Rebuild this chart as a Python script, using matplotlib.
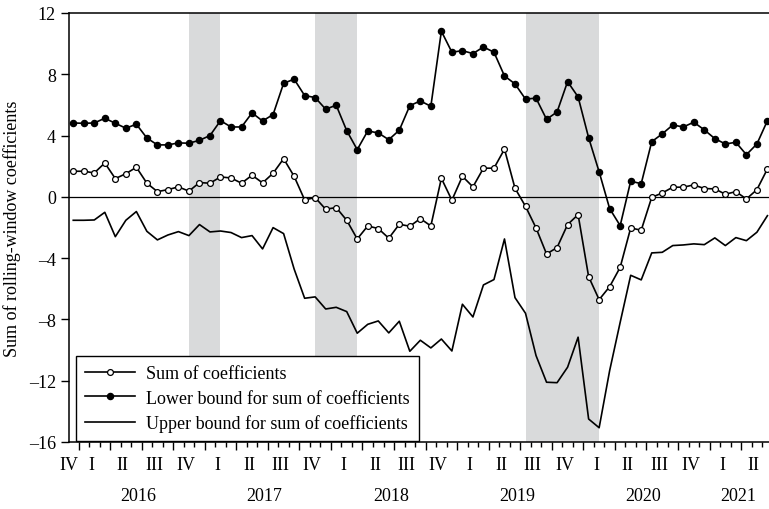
import numpy as np
import matplotlib
matplotlib.use("Agg")
import matplotlib.pyplot as plt

plt.rcParams['font.family'] = ['Liberation Serif', 'DejaVu Serif']

# monthly data, Dec 2015 .. Jun 2021
start_year, start_month = 2015, 12
sum_coef = [1.67, 1.67, 1.56, 2.21, 1.19, 1.51, 1.93, 0.89, 0.34, 0.47,
            0.65, 0.37, 0.93, 0.89, 1.30, 1.23, 0.89, 1.41, 0.91, 1.54,
            2.49, 1.34, -0.20, -0.05, -0.81, -0.70, -1.53, -2.75, -1.90, -2.07,
            -2.70, -1.79, -1.92, -1.42, -1.90, 1.21, -0.22, 1.34, 0.65, 1.87,
            1.87, 3.11, 0.56, -0.62, -2.03, -3.73, -3.31, -1.81, -1.16, -5.21,
            -6.71, -5.86, -4.60, -2.03, -2.18, -0.03, 0.25, 0.63, 0.63, 0.78,
            0.54, 0.52, 0.17, 0.34, -0.14, 0.47, 1.82]
lower = [4.82, 4.80, 4.82, 5.13, 4.80, 4.48, 4.74, 3.84, 3.39, 3.39,
         3.52, 3.50, 3.69, 4.00, 4.97, 4.56, 4.56, 5.48, 4.95, 5.37,
         7.41, 7.68, 6.61, 6.48, 5.72, 5.98, 4.32, 3.08, 4.30, 4.17,
         3.73, 4.35, 5.95, 6.26, 5.91, 10.81, 9.44, 9.54, 9.35, 9.78,
         9.44, 7.89, 7.37, 6.38, 6.44, 5.06, 5.54, 7.52, 6.52, 3.86,
         1.63, -0.77, -1.88, 1.02, 0.86, 3.60, 4.11, 4.69, 4.56, 4.87,
         4.37, 3.80, 3.45, 3.56, 2.75, 3.45, 4.97]
upper = [-1.53, -1.53, -1.51, -1.01, -2.60, -1.53, -0.96, -2.25, -2.81, -2.49,
         -2.27, -2.53, -1.81, -2.29, -2.23, -2.33, -2.66, -2.53, -3.40, -2.01,
         -2.40, -4.71, -6.62, -6.53, -7.32, -7.21, -7.49, -8.90, -8.32, -8.10,
         -8.88, -8.12, -10.08, -9.36, -9.86, -9.28, -10.06, -7.01, -7.84, -5.75,
         -5.40, -2.75, -6.58, -7.60, -10.36, -12.10, -12.13, -11.12, -9.16, -14.50,
         -15.07, -11.34, -8.19, -5.12, -5.42, -3.66, -3.62, -3.18, -3.14, -3.07,
         -3.12, -2.68, -3.18, -2.66, -2.86, -2.31, -1.23]
# shaded periods (month index from / to)
shade_periods = [(11, 14), (23, 27), (43, 50)]
roman = ['I', 'II', 'III', 'IV']

n = len(sum_coef)
x = np.arange(n)
months = [(start_month - 1 + i) % 12 + 1 for i in range(n)]
years = [start_year + (start_month - 1 + i) // 12 for i in range(n)]

fig = plt.figure(figsize=(7.69, 5.10), dpi=100)
ax = fig.add_axes([0.0891, 0.1314, 1.0 - 0.0891, 0.8412])

for a, b in shade_periods:
    ax.axvspan(a, b, color='#d9dadb', lw=0, zorder=0)

ax.axhline(0, color='black', lw=0.9, zorder=1)

l1, = ax.plot(x, sum_coef, color='black', lw=1.2, marker='o', ms=4.2,
              mfc='white', mec='black', mew=0.9, zorder=3)
l2, = ax.plot(x, lower, color='black', lw=1.2, marker='o', ms=4.4,
              mfc='black', mec='black', zorder=3)
l3, = ax.plot(x, upper, color='black', lw=1.2, zorder=3)

ax.set_xlim(-0.45, 66.15)
ax.set_ylim(-16, 12)
ax.set_yticks(np.arange(-16, 13, 4))
ax.set_yticklabels([str(v).replace('-', '\u2013') for v in range(-16, 13, 4)])
ax.tick_params(axis='y', direction='out', length=6, width=1, labelsize=13, pad=3)

# month ticks and quarter ticks
month_edges = np.arange(0.5, n - 1, 1.0)
quarter_edges = [e for e in month_edges if months[int(e + 0.5)] in (1, 4, 7, 10)]
ax.set_xticks(quarter_edges)
ax.set_xticks(month_edges, minor=True)
ax.set_xticklabels([])
ax.tick_params(axis='x', which='major', direction='out', length=5.5, width=1)
ax.tick_params(axis='x', which='minor', direction='out', length=3.5, width=1)

for s in ['left', 'top', 'bottom']:
    ax.spines[s].set_linewidth(1.1)
ax.spines['right'].set_visible(False)

# quarter labels
groups = {}
for i in range(n):
    key = (years[i], (months[i] - 1) // 3)
    groups.setdefault(key, []).append(i)
for (yr, q), idx in groups.items():
    xc = np.mean(idx) - 0.3
    if len(idx) == 1:
        xc = idx[0] - 0.45
    ax.annotate(roman[q], xy=(xc, 0), xycoords=('data', 'axes fraction'),
                xytext=(0, -23), textcoords='offset pixels',
                ha='center', va='center', fontsize=13)

# year labels
ygroups = {}
for i in range(n):
    ygroups.setdefault(years[i], []).append(i)
for yr, idx in ygroups.items():
    if yr == start_year:
        continue
    ax.annotate(str(yr), xy=(np.mean(idx) - 0.3, 0), xycoords=('data', 'axes fraction'),
                xytext=(0, -54), textcoords='offset pixels',
                ha='center', va='center', fontsize=13)

ax.set_ylabel('Sum of rolling-window coefficients', fontsize=13, labelpad=6)

leg = ax.legend([l1, l2, l3],
                ['Sum of coefficients',
                 'Lower bound for sum of coefficients',
                 'Upper bound for sum of coefficients'],
                loc='lower left', bbox_to_anchor=(0.0103, 0.002),
                borderaxespad=0, fontsize=13, frameon=True, fancybox=False,
                edgecolor='black', framealpha=1, handlelength=2.8,
                handletextpad=0.6, labelspacing=0.42, borderpad=0.5)
leg.get_frame().set_linewidth(1.0)

fig.savefig('out.png', dpi=100)
